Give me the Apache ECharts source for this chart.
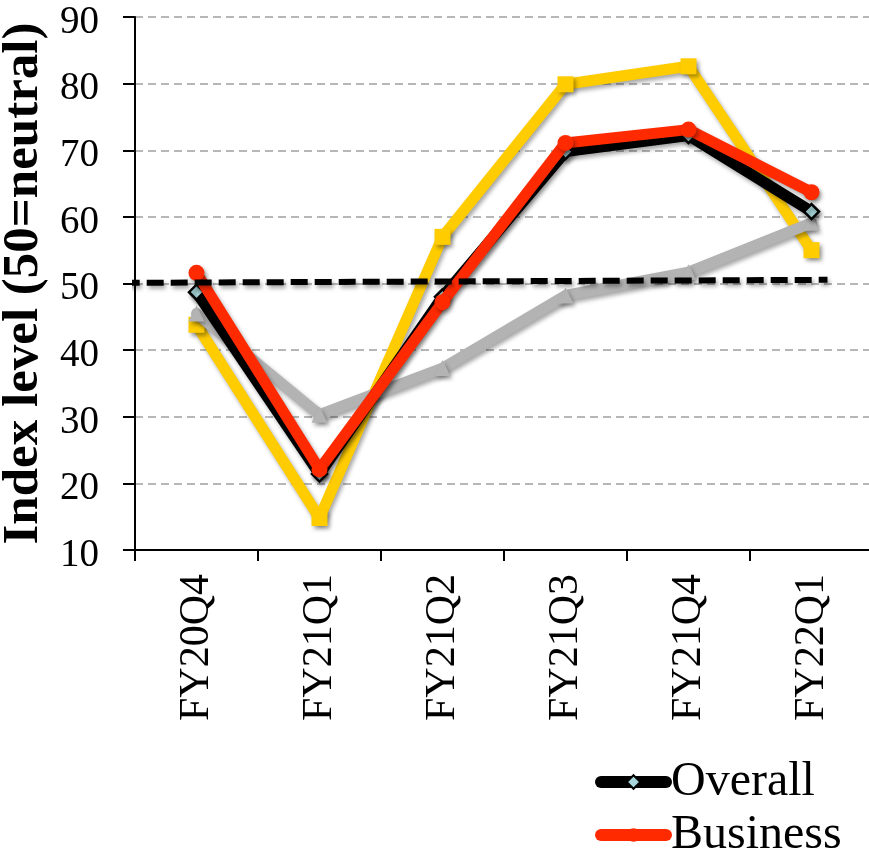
<!DOCTYPE html>
<html>
<head>
<meta charset="utf-8">
<script src="https://cdn.jsdelivr.net/npm/echarts@6/dist/echarts.min.js"></script>
<style>
  html, body { margin: 0; padding: 0; background: #ffffff; }
  #chart { width: 869px; height: 851px; }
</style>
</head>
<body>
<div id="chart"></div>
<script>
// Quarterly index levels (50 = neutral)
const quarters = ['FY20Q4', 'FY21Q1', 'FY21Q2', 'FY21Q3', 'FY21Q4', 'FY22Q1'];
const overall  = [48.7, 21.4, 48.0, 69.8, 72.2, 60.8];
const business = [51.6, 22.1, 47.2, 71.1, 73.1, 63.7];
const consumer = [43.8, 14.8, 57.0, 79.9, 82.6, 55.0];
const other    = [45.5, 30.3, 37.3, 48.2, 51.7, 59.1];
// Neutral reference line: [x position on category scale, level]
const neutralLine = [[-0.6, 50.1], [5.13, 50.55]];
const yTicks = { min: 10, max: 90, step: 10 };
const legendNames = ['Overall', 'Business'];

const serif = '"Liberation Serif", "Times New Roman", serif';
const shadow = { shadowColor: 'rgba(0,0,0,0.35)', shadowBlur: 4, shadowOffsetX: 2, shadowOffsetY: 3 };

function lineSeries(name, data, color, symbol, size, z, extraItem) {
  return {
    name: name,
    type: 'line',
    data: data,
    z: z,
    symbol: symbol,
    symbolSize: size,
    showSymbol: true,
    lineStyle: Object.assign({ color: color, width: 11, cap: 'round', join: 'round' }, shadow),
    itemStyle: Object.assign({ color: color, borderWidth: 0 }, shadow, extraItem || {}),
    emphasis: { disabled: true },
    animation: false
  };
}

function legendEntry(name, top) {
  return {
    data: [name],
    orient: 'vertical',
    left: 590,
    top: top,
    itemWidth: 65,
    itemHeight: 17,
    lineStyle: { width: 12, cap: 'round' },
    textStyle: { fontFamily: serif, fontSize: 48, color: '#000' },
    selectedMode: false
  };
}

const chart = echarts.init(document.getElementById('chart'), null, { renderer: 'canvas' });

chart.setOption({
  backgroundColor: '#ffffff',
  animation: false,
  grid: { left: 135, right: -4, top: 17, bottom: 301, containLabel: false, outerBoundsMode: 'none' },
  legend: [legendEntry(legendNames[0], 753), legendEntry(legendNames[1], 806)],
  xAxis: [{
    type: 'category',
    data: quarters,
    boundaryGap: true,
    axisLine: { lineStyle: { color: '#000', width: 2 } },
    axisTick: { show: true, length: 11, lineStyle: { color: '#000', width: 2 } },
    axisLabel: { rotate: 90, fontFamily: serif, fontSize: 42, color: '#000', margin: 24 },
    splitLine: { show: false }
  }, {
    type: 'value',
    min: -0.5,
    max: 5.5,
    show: false
  }],
  yAxis: {
    type: 'value',
    min: yTicks.min,
    max: yTicks.max,
    interval: yTicks.step,
    name: 'Index level (50=neutral)',
    nameLocation: 'middle',
    nameRotate: 90,
    nameGap: 80,
    nameTextStyle: { fontFamily: serif, fontSize: 51, fontWeight: 'bold', color: '#000' },
    axisLine: { show: true, onZero: false, lineStyle: { color: '#000', width: 2 } },
    axisTick: { show: true, length: 12, lineStyle: { color: '#000', width: 2 } },
    axisLabel: {
      margin: 36,
      fontFamily: serif,
      fontSize: 39,
      color: '#000',
      lineHeight: 11,
      // a blank first line nudges the numerals slightly below their tick
      formatter: function (v) { return '\n' + v; }
    },
    splitLine: { show: true, lineStyle: { color: '#a0a0a0', width: 1.5, type: [8, 5] } }
  },
  series: [
    lineSeries('Consumer', consumer, '#ffcc00', 'rect', 16, 2),
    lineSeries('Other', other, '#b3b3b3', 'triangle', 16, 3),
    lineSeries('Overall', overall, '#000000', 'diamond', 15, 4,
      { color: '#a8d6da', borderColor: '#000000', borderWidth: 2.5 }),
    lineSeries('Business', business, '#ff2a00', 'circle', 16, 5),
    {
      name: 'Neutral',
      type: 'line',
      xAxisIndex: 1,
      data: neutralLine,
      z: 6,
      clip: false,
      symbol: 'none',
      lineStyle: Object.assign({ color: '#000', width: 6, type: [17, 7], cap: 'butt' }, shadow),
      emphasis: { disabled: true },
      animation: false
    }
  ]
});
</script>
</body>
</html>
